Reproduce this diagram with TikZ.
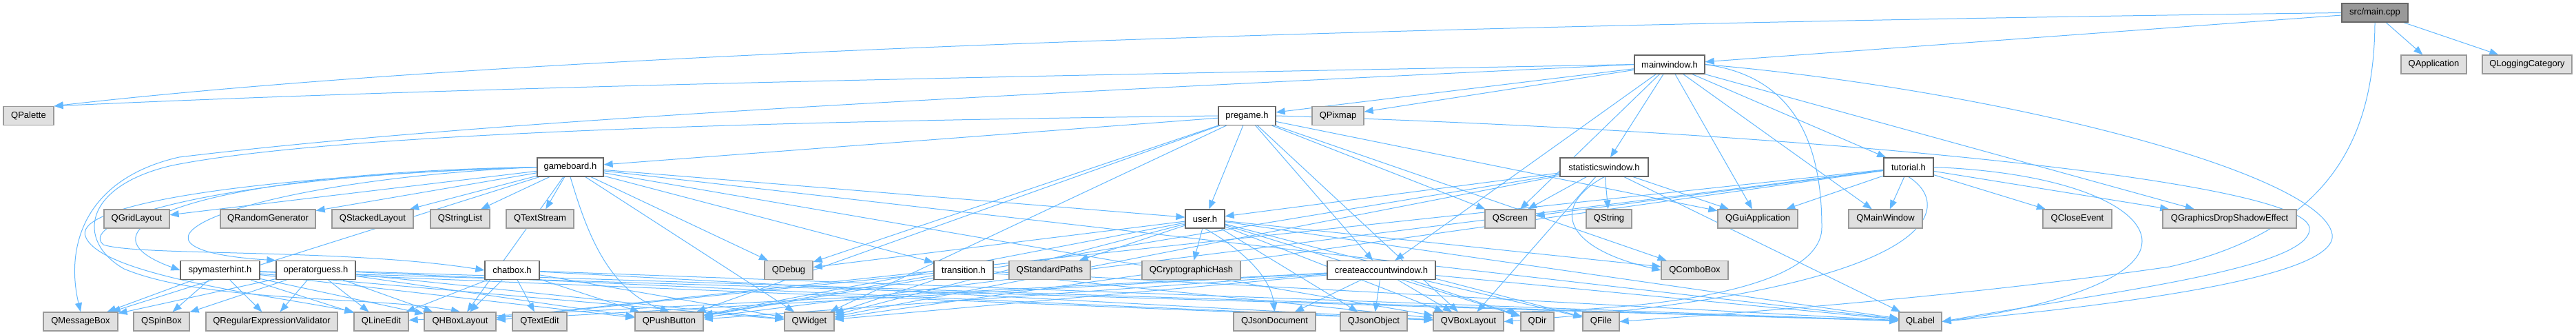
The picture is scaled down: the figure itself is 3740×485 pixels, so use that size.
\documentclass[tikz,border=0pt]{standalone}
\usepackage{fontspec}
\setmainfont{Liberation Sans}
\usetikzlibrary{arrows.meta}
\definecolor{edgec}{HTML}{63B8FF}
\definecolor{qtfill}{HTML}{E0E0E0}
\definecolor{qtdraw}{HTML}{999999}
\definecolor{hdraw}{HTML}{666666}
\definecolor{mainfill}{HTML}{999999}
\pgfdeclarelayer{bg}
\pgfsetlayers{bg,main}
\begin{document}
\begin{tikzpicture}[x=1pt,y=-1pt,
  box/.style={rectangle, minimum height=27pt, inner sep=0pt, font=\fontsize{13}{15}\selectfont, line width=1.3pt},
  qt/.style={box, fill=qtfill, draw=qtdraw},
  hdr/.style={box, fill=white, draw=hdraw},
  root/.style={box, fill=mainfill, draw=hdraw},
  e/.style={draw=edgec, line width=1pt, -{Triangle[length=13pt,width=10pt,fill=edgec]}}]
\useasboundingbox (0,0) rectangle (3740,485);
% row 0
\node[root, minimum width=96] (main) at (3448,18.5) {src/main.cpp};
% row 1
\node[hdr, minimum width=102] (mainwindow) at (2424,93.5) {mainwindow.h};
\node[qt, minimum width=95] (QApplication) at (3533.5,93.5) {QApplication};
\node[qt, minimum width=130] (QLoggingCategory) at (3669,93.5) {QLoggingCategory};
% row 2
\node[qt, minimum width=73] (QPalette) at (41.5,168) {QPalette};
\node[hdr, minimum width=83] (pregame) at (1810.5,168) {pregame.h};
\node[qt, minimum width=75] (QPixmap) at (1942.5,168) {QPixmap};
% row 3
\node[hdr, minimum width=96] (gameboard) at (828,242.5) {gameboard.h};
\node[hdr, minimum width=128] (statisticswindow) at (2329,242.5) {statisticswindow.h};
\node[hdr, minimum width=72] (tutorial) at (2771,242.5) {tutorial.h};
% row 4
\node[qt, minimum width=95] (QGridLayout) at (198.5,317.5) {QGridLayout};
\node[qt, minimum width=138] (QRandomGenerator) at (389,317.5) {QRandomGenerator};
\node[qt, minimum width=118] (QStackedLayout) at (541,317.5) {QStackedLayout};
\node[qt, minimum width=86] (QStringList) at (668,317.5) {QStringList};
\node[qt, minimum width=98] (QTextStream) at (784,317.5) {QTextStream};
\node[hdr, minimum width=57] (user) at (1749.5,317.5) {user.h};
\node[qt, minimum width=73] (QScreen) at (2192.5,317.5) {QScreen};
\node[qt, minimum width=66] (QString) at (2336,317.5) {QString};
\node[qt, minimum width=116] (QGuiApplication) at (2552,317.5) {QGuiApplication};
\node[qt, minimum width=107] (QMainWindow) at (2737.5,317.5) {QMainWindow};
\node[qt, minimum width=100] (QCloseEvent) at (3016,317.5) {QCloseEvent};
\node[qt, minimum width=194] (QGraphicsDropShadowEffect) at (3237,317.5) {QGraphicsDropShadowEffect};
% row 5
\node[hdr, minimum width=115] (spymasterhint) at (319.5,392) {spymasterhint.h};
\node[hdr, minimum width=115] (operatorguess) at (458.5,392) {operatorguess.h};
\node[hdr, minimum width=79] (chatbox) at (743.5,392) {chatbox.h};
\node[qt, minimum width=70] (QDebug) at (1145,392) {QDebug};
\node[hdr, minimum width=86] (transition) at (1399,392) {transition.h};
\node[qt, minimum width=118] (QStandardPaths) at (1524,392) {QStandardPaths};
\node[qt, minimum width=143] (QCryptographicHash) at (1729.5,392) {QCryptographicHash};
\node[hdr, minimum width=157] (createaccountwindow) at (2005.5,392) {createaccountwindow.h};
\node[qt, minimum width=97] (QComboBox) at (2460.5,392) {QComboBox};
% row 6
\node[qt, minimum width=108] (QMessageBox) at (117,466.5) {QMessageBox};
\node[qt, minimum width=81] (QSpinBox) at (234.5,466.5) {QSpinBox};
\node[qt, minimum width=191] (QRegularExpressionValidator) at (394.5,466.5) {QRegularExpressionValidator};
\node[qt, minimum width=79] (QLineEdit) at (553.5,466.5) {QLineEdit};
\node[qt, minimum width=104] (QHBoxLayout) at (668,466.5) {QHBoxLayout};
\node[qt, minimum width=79] (QTextEdit) at (783.5,466.5) {QTextEdit};
\node[qt, minimum width=99] (QPushButton) at (971.5,466.5) {QPushButton};
\node[qt, minimum width=72] (QWidget) at (1175,466.5) {QWidget};
\node[qt, minimum width=119] (QJsonDocument) at (1850.5,466.5) {QJsonDocument};
\node[qt, minimum width=97] (QJsonObject) at (1994.5,466.5) {QJsonObject};
\node[qt, minimum width=102] (QVBoxLayout) at (2132,466.5) {QVBoxLayout};
\node[qt, minimum width=48] (QDir) at (2232,466.5) {QDir};
\node[qt, minimum width=53] (QFile) at (2324.5,466.5) {QFile};
\node[qt, minimum width=62] (QLabel) at (2788,466.5) {QLabel};

\begin{pgfonlayer}{bg}
% src/main.cpp
\foreach \t in {mainwindow,QApplication,QLoggingCategory}
  \draw[e] (main) -- (\t);
\draw[e] (main.west) .. controls (2500,30) and (900,60) .. (QPalette.north east);
\draw[e] (main.south) .. controls (3447,180) and (3400,330) .. (3150,387) .. controls (2850,430) and (2550,452) .. (QFile.east);
% mainwindow.h
\foreach \t in {pregame,QPixmap,statisticswindow,createaccountwindow,QScreen,QGuiApplication,QMainWindow,tutorial,QGraphicsDropShadowEffect}
  \draw[e] (mainwindow) -- (\t);
\draw[e] (mainwindow.west) .. controls (1500,110) and (700,125) .. (QPalette.north east);
\draw[e] (mainwindow.west) .. controls (1400,140) and (700,175) .. (260,228) .. controls (120,260) and (95,360) .. (QMessageBox.north);
\draw[e] (mainwindow.east) .. controls (2900,130) and (3370,250) .. (3386,340) .. controls (3395,400) and (3100,440) .. (QLabel.east);
\draw[e] (mainwindow.east) .. controls (2600,110) and (2645,200) .. (2645,330) .. controls (2645,420) and (2400,450) .. (QVBoxLayout.north east);
% pregame.h
\foreach \t in {gameboard,user,createaccountwindow,QScreen,QGuiApplication,QPushButton,QWidget,QDebug,QVBoxLayout,QComboBox}
  \draw[e] (pregame) -- (\t);
\draw[e] (pregame.west) .. controls (1200,175) and (500,190) .. (250,240) .. controls (120,270) and (110,350) .. (180,390) .. controls (300,440) and (550,430) .. (QHBoxLayout.north);
\draw[e] (pregame.east) .. controls (2600,190) and (3340,260) .. (3353,330) .. controls (3360,390) and (3050,425) .. (QLabel.east);
% gameboard.h
\foreach \t in {QGridLayout,QRandomGenerator,QStackedLayout,QStringList,QTextStream,QMessageBox,user,QDebug,QWidget,QLabel,QVBoxLayout,QHBoxLayout,transition}
  \draw[e] (gameboard) -- (\t);
\draw[e] (gameboard.south) .. controls (850,330) and (880,420) .. (QPushButton.north);
\draw[e] (gameboard.west) .. controls (300,250) and (90,330) .. (spymasterhint.west);
\draw[e] (gameboard.west) .. controls (350,262) and (120,360) .. (operatorguess.north west);
\draw[e] (gameboard.west) .. controls (320,255) and (110,320) .. (150,355) .. controls (200,372) and (500,360) .. (chatbox.west);
\draw[e] (gameboard.west) .. controls (330,258) and (100,300) .. (125,345) .. controls (150,400) and (400,430) .. (QLineEdit.north west);
% statisticswindow.h
\foreach \t in {QScreen,QString,QGuiApplication,QLabel,QVBoxLayout,QPushButton,QWidget,user}
  \draw[e] (statisticswindow) -- (\t);
\draw[e] (statisticswindow.south) .. controls (2250,300) and (2270,360) .. (QComboBox.west);
% tutorial.h
\foreach \t in {QGuiApplication,QMainWindow,QCloseEvent,QGraphicsDropShadowEffect,QPushButton,QWidget,QScreen,QHBoxLayout}
  \draw[e] (tutorial) -- (\t);
\draw[e] (tutorial.south) .. controls (2840,300) and (2820,420) .. (QVBoxLayout.east);
\draw[e] (tutorial.east) .. controls (3000,250) and (3110,300) .. (3110,350) .. controls (3110,410) and (2950,450) .. (QLabel.east);
% user.h
\foreach \t in {QStandardPaths,QCryptographicHash,QJsonObject,QFile,QDir,QDebug,QWidget,QPushButton,QVBoxLayout,QLabel,QComboBox}
  \draw[e] (user) -- (\t);
\draw[e] (user.south) .. controls (1800,360) and (1845,400) .. (QJsonDocument.north);
% createaccountwindow.h
\foreach \t in {QJsonDocument,QJsonObject,QVBoxLayout,QDir,QFile,QLabel,QLineEdit,QPushButton,QWidget,QHBoxLayout}
  \draw[e] (createaccountwindow) -- (\t);
% chatbox.h
\foreach \t in {QHBoxLayout,QTextEdit,QPushButton,QWidget,QLineEdit,QVBoxLayout,QLabel}
  \draw[e] (chatbox) -- (\t);
% transition.h
\foreach \t in {QWidget,QPushButton,QLabel,QVBoxLayout,QHBoxLayout}
  \draw[e] (transition) -- (\t);
% spymasterhint.h
\foreach \t in {QMessageBox,QSpinBox,QRegularExpressionValidator,QLineEdit,QHBoxLayout,QPushButton,QWidget,QLabel,QVBoxLayout}
  \draw[e] (spymasterhint) -- (\t);
% operatorguess.h
\foreach \t in {QMessageBox,QSpinBox,QRegularExpressionValidator,QLineEdit,QHBoxLayout,QPushButton,QWidget,QLabel,QVBoxLayout}
  \draw[e] (operatorguess) -- (\t);
\end{pgfonlayer}
\end{tikzpicture}
\end{document}
